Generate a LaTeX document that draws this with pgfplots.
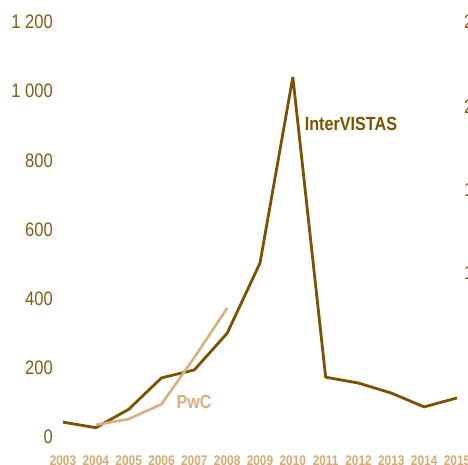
\documentclass[border=0pt]{standalone}
\usepackage{fontspec}
\setmainfont{Liberation Sans}[FakeStretch=0.85]
\usepackage{pgfplots}
\pgfplotsset{compat=1.18}
\definecolor{ivbrown}{RGB}{122,82,0}
\definecolor{pwctan}{RGB}{214,176,126}
\definecolor{ticktext}{RGB}{128,92,20}
\definecolor{yeartext}{RGB}{214,170,112}

\begin{document}
\begin{tikzpicture}
\path[use as bounding box] (0,0) rectangle (468pt,-464pt);
\begin{axis}[
    at={(63pt,-437pt)}, anchor=south west,
    scale only axis, width=394pt, height=415pt,
    xmin=0, xmax=12, ymin=0, ymax=1200,
    axis line style={draw=none},
    major tick length=0pt,
    clip=false,
    xtick={0,...,12},
    xticklabels={2003,2004,2005,2006,2007,2008,2009,2010,2011,2012,2013,2014,2015},
    ytick={0,200,400,600,800,1000,1200},
    yticklabels={0,200,400,600,800,1 000,1 200},
    xticklabel style={font=\fontsize{14}{14}\selectfont\bfseries, text=yeartext,
        anchor=base, inner sep=0pt, yshift=-28pt},
    yticklabel style={font=\fontsize{19.5}{19.5}\selectfont, text=ticktext,
        anchor=east, inner sep=0pt, xshift=-10pt},
]
% InterVISTAS
\addplot[ivbrown, line width=2.8pt, line join=bevel] coordinates {
    (0,43) (1,27) (2,80) (3,171) (4,194) (5,300) (6,503) (7,1041)
    (8,173) (9,156) (10,127) (11,87) (12,113)
};
% PwC
\addplot[pwctan, line width=2.6pt, line join=bevel] coordinates {
    (1,35) (2,52) (3,95) (4,230) (5,373)
};
\node[font=\fontsize{19}{19}\selectfont\bfseries, text=ivbrown] at (axis cs:8.77,905) {InterVISTAS};
\node[font=\fontsize{19}{19}\selectfont\bfseries, text=pwctan] at (axis cs:3.99,101) {PwC};
\end{axis}
% edge of the neighbouring chart
\foreach \yy/\lab in {22/2 500, 107/2 000, 190/1 500, 273/1 000}
    \node[anchor=west, inner sep=0pt, font=\fontsize{19.5}{19.5}\selectfont, text=ticktext]
        at (464pt,-\yy pt) {\lab};
\end{tikzpicture}
\end{document}
